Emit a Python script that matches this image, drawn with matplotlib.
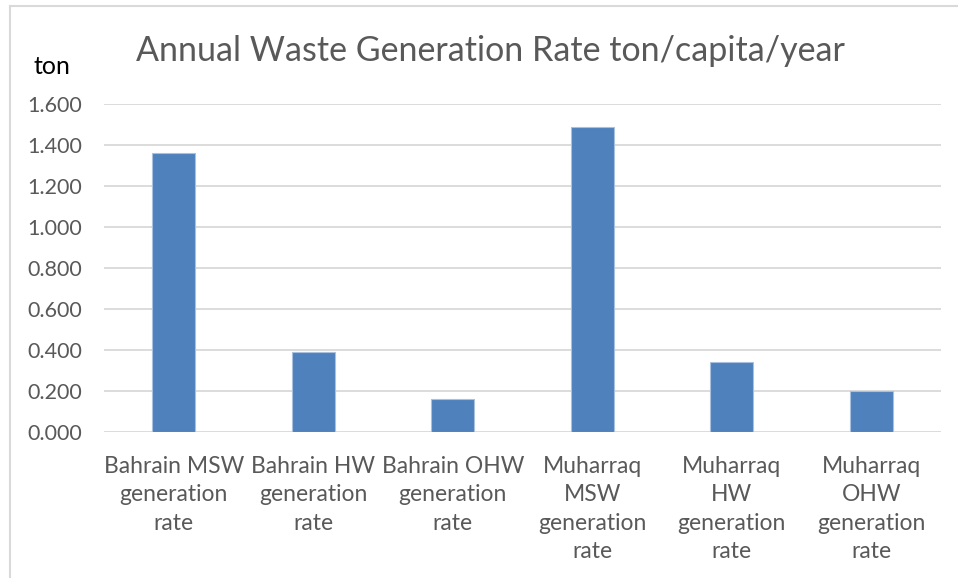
import matplotlib
matplotlib.use("Agg")
import matplotlib.pyplot as plt
from matplotlib.lines import Line2D

categories = [
    "Bahrain MSW\ngeneration\nrate",
    "Bahrain HW\ngeneration\nrate",
    "Bahrain OHW\ngeneration\nrate",
    "Muharraq\nMSW\ngeneration\nrate",
    "Muharraq\nHW\ngeneration\nrate",
    "Muharraq\nOHW\ngeneration\nrate",
]
values = [1.36, 0.39, 0.16, 1.49, 0.34, 0.20]
yticks = [0.0, 0.2, 0.4, 0.6, 0.8, 1.0, 1.2, 1.4, 1.6]
ytick_labels = ["0.000", "0.200", "0.400", "0.600", "0.800",
                "1.000", "1.200", "1.400", "1.600"]

W, H = 958, 578
BAR = "#4f81bd"
GRID = "#d9d9d9"
TEXT = "#595959"
FONT = ["Lato", "DejaVu Sans"]

plt.rcParams["font.family"] = FONT

fig = plt.figure(figsize=(W / 100, H / 100), dpi=100)
fig.patch.set_facecolor("white")

# chart frame (top and left edges visible)
fig.add_artist(Line2D([10 / W, 10 / W], [0, 1 - 6 / H], color="#d9d9d9", lw=1.5))
fig.add_artist(Line2D([10 / W, 1], [1 - 6 / H, 1 - 6 / H], color="#d9d9d9", lw=1.5))

left, right, top, bottom = 104, 941, 104, 432
ax = fig.add_axes([left / W, 1 - bottom / H, (right - left) / W, (bottom - top) / H])
x = list(range(len(categories)))
ax.bar(x, values, width=0.31, color=BAR, edgecolor="#a9c0de", linewidth=0.8, zorder=3)
ax.set_xlim(-0.5, len(categories) - 0.5)
ax.set_ylim(0, 1.6)
ax.set_yticks(yticks)
ax.set_yticklabels(ytick_labels)
ax.set_xticks(x)
ax.set_xticklabels(categories, linespacing=1.42)
for s in ax.spines.values():
    s.set_visible(False)
ax.yaxis.grid(True, color=GRID, lw=1.3, zorder=0)
ax.set_axisbelow(True)
ax.tick_params(axis="y", length=0, pad=16, labelsize=15.5, labelcolor=TEXT)
ax.tick_params(axis="x", length=0, pad=17.5, labelsize=16.5, labelcolor=TEXT)

fig.text(490 / W, 1 - 51 / H, "Annual Waste Generation Rate ton/capita/year",
         ha="center", va="center", fontsize=24.5, color=TEXT)
fig.text(33 / W, 1 - 66 / H, "ton", ha="left", va="center", fontsize=18, color="black")

fig.savefig("out.png", dpi=100)
